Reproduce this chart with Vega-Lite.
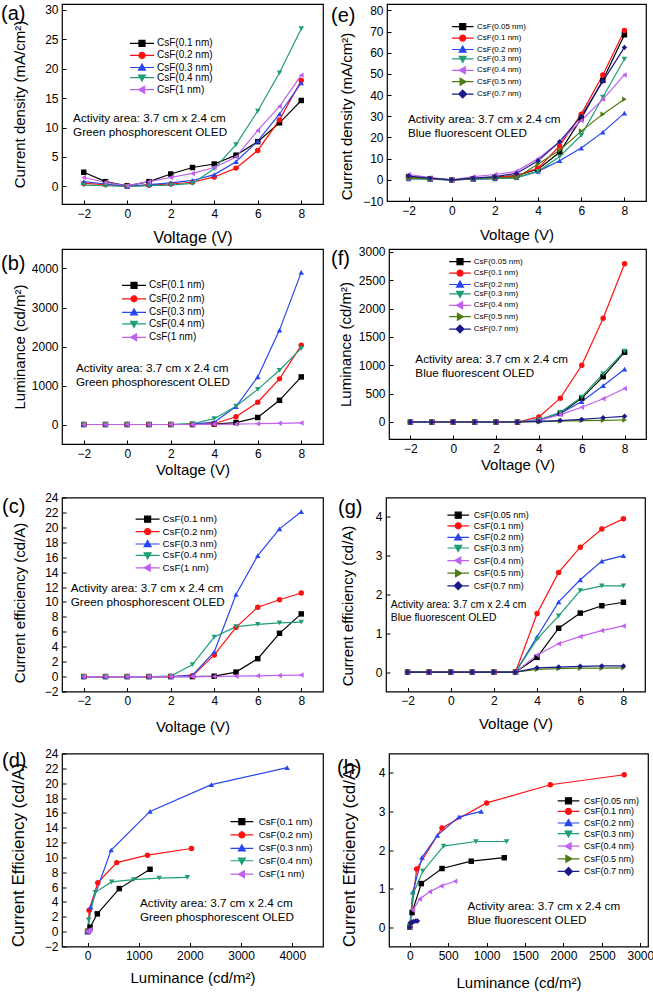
{
"$schema": "https://vega.github.io/schema/vega-lite/v6.json",
"padding": {"left": 0, "top": 3, "right": 0, "bottom": 0},
"background": "white",
"config": {
  "font": "Liberation Sans",
  "view": {"stroke": "black", "strokeWidth": 1.2},
  "axis": {"domain": false, "grid": false, "ticks": true, "tickSize": -4, "tickColor": "black", "tickWidth": 1, "labelPadding": 8, "labelFontSize": 12, "labelColor": "black", "labelFont": "Liberation Sans", "labelOverlap": false, "labelFlush": false, "titleColor": "black", "titleFont": "Liberation Sans", "titleFontWeight": "normal", "titleFontSize": 15},
  "legend": {"labelFont": "Liberation Sans", "labelColor": "black"},
  "line": {"strokeWidth": 1.2},
  "point": {"filled": true, "size": 30, "opacity": 1}
},
"resolve": {"scale": {"color": "independent", "shape": "independent"}, "legend": {"color": "independent", "shape": "independent"}},
"datasets": {
"a": [
{"series":"CsF(0.1 nm)","x":-2,"y":2.4},{"series":"CsF(0.1 nm)","x":-1,"y":0.8},{"series":"CsF(0.1 nm)","x":0,"y":0.1},{"series":"CsF(0.1 nm)","x":1,"y":0.8},{"series":"CsF(0.1 nm)","x":2,"y":2.1},{"series":"CsF(0.1 nm)","x":3,"y":3.2},{"series":"CsF(0.1 nm)","x":4,"y":3.8},{"series":"CsF(0.1 nm)","x":5,"y":5.3},{"series":"CsF(0.1 nm)","x":6,"y":7.6},{"series":"CsF(0.1 nm)","x":7,"y":10.8},{"series":"CsF(0.1 nm)","x":8,"y":14.6},
{"series":"CsF(0.2 nm)","x":-2,"y":0.5},{"series":"CsF(0.2 nm)","x":-1,"y":0.3},{"series":"CsF(0.2 nm)","x":0,"y":0},{"series":"CsF(0.2 nm)","x":1,"y":0.2},{"series":"CsF(0.2 nm)","x":2,"y":0.4},{"series":"CsF(0.2 nm)","x":3,"y":0.7},{"series":"CsF(0.2 nm)","x":4,"y":1.6},{"series":"CsF(0.2 nm)","x":5,"y":3.1},{"series":"CsF(0.2 nm)","x":6,"y":6.1},{"series":"CsF(0.2 nm)","x":7,"y":11.3},{"series":"CsF(0.2 nm)","x":8,"y":18.0},
{"series":"CsF(0.3 nm)","x":-2,"y":0.8},{"series":"CsF(0.3 nm)","x":-1,"y":0.4},{"series":"CsF(0.3 nm)","x":0,"y":0},{"series":"CsF(0.3 nm)","x":1,"y":0.3},{"series":"CsF(0.3 nm)","x":2,"y":0.6},{"series":"CsF(0.3 nm)","x":3,"y":1.0},{"series":"CsF(0.3 nm)","x":4,"y":2.0},{"series":"CsF(0.3 nm)","x":5,"y":4.2},{"series":"CsF(0.3 nm)","x":6,"y":7.7},{"series":"CsF(0.3 nm)","x":7,"y":12.3},{"series":"CsF(0.3 nm)","x":8,"y":17.6},
{"series":"CsF(0.4 nm)","x":-2,"y":0.2},{"series":"CsF(0.4 nm)","x":-1,"y":0.1},{"series":"CsF(0.4 nm)","x":0,"y":0},{"series":"CsF(0.4 nm)","x":1,"y":0.1},{"series":"CsF(0.4 nm)","x":2,"y":0.2},{"series":"CsF(0.4 nm)","x":3,"y":0.5},{"series":"CsF(0.4 nm)","x":4,"y":3.0},{"series":"CsF(0.4 nm)","x":5,"y":7.1},{"series":"CsF(0.4 nm)","x":6,"y":12.8},{"series":"CsF(0.4 nm)","x":7,"y":19.3},{"series":"CsF(0.4 nm)","x":8,"y":26.8},
{"series":"CsF(1 nm)","x":-2,"y":1.5},{"series":"CsF(1 nm)","x":-1,"y":0.7},{"series":"CsF(1 nm)","x":0,"y":0.1},{"series":"CsF(1 nm)","x":1,"y":0.8},{"series":"CsF(1 nm)","x":2,"y":1.5},{"series":"CsF(1 nm)","x":3,"y":2.2},{"series":"CsF(1 nm)","x":4,"y":3.2},{"series":"CsF(1 nm)","x":5,"y":5.0},{"series":"CsF(1 nm)","x":6,"y":9.5},{"series":"CsF(1 nm)","x":7,"y":13.6},{"series":"CsF(1 nm)","x":8,"y":18.9}
],
"e": [
{"series":"CsF(0.05 nm)","x":-2,"y":1.5},{"series":"CsF(0.05 nm)","x":-1,"y":0.5},{"series":"CsF(0.05 nm)","x":0,"y":0},{"series":"CsF(0.05 nm)","x":1,"y":0.5},{"series":"CsF(0.05 nm)","x":2,"y":1.2},{"series":"CsF(0.05 nm)","x":3,"y":2.0},{"series":"CsF(0.05 nm)","x":4,"y":5.0},{"series":"CsF(0.05 nm)","x":5,"y":13.0},{"series":"CsF(0.05 nm)","x":6,"y":29.0},{"series":"CsF(0.05 nm)","x":7,"y":47.0},{"series":"CsF(0.05 nm)","x":8,"y":68.5},
{"series":"CsF(0.1 nm)","x":-2,"y":1.0},{"series":"CsF(0.1 nm)","x":-1,"y":0.5},{"series":"CsF(0.1 nm)","x":0,"y":0},{"series":"CsF(0.1 nm)","x":1,"y":0.5},{"series":"CsF(0.1 nm)","x":2,"y":1.0},{"series":"CsF(0.1 nm)","x":3,"y":2.0},{"series":"CsF(0.1 nm)","x":4,"y":5.5},{"series":"CsF(0.1 nm)","x":5,"y":16.0},{"series":"CsF(0.1 nm)","x":6,"y":31.0},{"series":"CsF(0.1 nm)","x":7,"y":49.5},{"series":"CsF(0.1 nm)","x":8,"y":70.5},
{"series":"CsF(0.2 nm)","x":-2,"y":0.5},{"series":"CsF(0.2 nm)","x":-1,"y":0.3},{"series":"CsF(0.2 nm)","x":0,"y":0},{"series":"CsF(0.2 nm)","x":1,"y":0.3},{"series":"CsF(0.2 nm)","x":2,"y":0.5},{"series":"CsF(0.2 nm)","x":3,"y":1.0},{"series":"CsF(0.2 nm)","x":4,"y":4.0},{"series":"CsF(0.2 nm)","x":5,"y":9.0},{"series":"CsF(0.2 nm)","x":6,"y":15.0},{"series":"CsF(0.2 nm)","x":7,"y":22.5},{"series":"CsF(0.2 nm)","x":8,"y":31.5},
{"series":"CsF(0.3 nm)","x":-2,"y":0.5},{"series":"CsF(0.3 nm)","x":-1,"y":0.3},{"series":"CsF(0.3 nm)","x":0,"y":0},{"series":"CsF(0.3 nm)","x":1,"y":0.3},{"series":"CsF(0.3 nm)","x":2,"y":0.5},{"series":"CsF(0.3 nm)","x":3,"y":1.0},{"series":"CsF(0.3 nm)","x":4,"y":4.0},{"series":"CsF(0.3 nm)","x":5,"y":11.0},{"series":"CsF(0.3 nm)","x":6,"y":21.0},{"series":"CsF(0.3 nm)","x":7,"y":39.0},{"series":"CsF(0.3 nm)","x":8,"y":57.0},
{"series":"CsF(0.4 nm)","x":-2,"y":2.5},{"series":"CsF(0.4 nm)","x":-1,"y":1.0},{"series":"CsF(0.4 nm)","x":0,"y":0},{"series":"CsF(0.4 nm)","x":1,"y":1.5},{"series":"CsF(0.4 nm)","x":2,"y":2.5},{"series":"CsF(0.4 nm)","x":3,"y":4.0},{"series":"CsF(0.4 nm)","x":4,"y":10.0},{"series":"CsF(0.4 nm)","x":5,"y":18.0},{"series":"CsF(0.4 nm)","x":6,"y":28.0},{"series":"CsF(0.4 nm)","x":7,"y":38.0},{"series":"CsF(0.4 nm)","x":8,"y":49.5},
{"series":"CsF(0.5 nm)","x":-2,"y":1.0},{"series":"CsF(0.5 nm)","x":-1,"y":0.5},{"series":"CsF(0.5 nm)","x":0,"y":0},{"series":"CsF(0.5 nm)","x":1,"y":0.5},{"series":"CsF(0.5 nm)","x":2,"y":1.0},{"series":"CsF(0.5 nm)","x":3,"y":1.0},{"series":"CsF(0.5 nm)","x":4,"y":7.5},{"series":"CsF(0.5 nm)","x":5,"y":14.0},{"series":"CsF(0.5 nm)","x":6,"y":23.0},{"series":"CsF(0.5 nm)","x":7,"y":31.0},{"series":"CsF(0.5 nm)","x":8,"y":38.0},
{"series":"CsF(0.7 nm)","x":-2,"y":1.8},{"series":"CsF(0.7 nm)","x":-1,"y":0.8},{"series":"CsF(0.7 nm)","x":0,"y":0},{"series":"CsF(0.7 nm)","x":1,"y":0.8},{"series":"CsF(0.7 nm)","x":2,"y":1.5},{"series":"CsF(0.7 nm)","x":3,"y":3.0},{"series":"CsF(0.7 nm)","x":4,"y":9.0},{"series":"CsF(0.7 nm)","x":5,"y":18.0},{"series":"CsF(0.7 nm)","x":6,"y":30.0},{"series":"CsF(0.7 nm)","x":7,"y":46.5},{"series":"CsF(0.7 nm)","x":8,"y":62.5}
],
"b": [
{"series":"CsF(0.1 nm)","x":-2,"y":0},{"series":"CsF(0.1 nm)","x":-1,"y":0},{"series":"CsF(0.1 nm)","x":0,"y":0},{"series":"CsF(0.1 nm)","x":1,"y":0},{"series":"CsF(0.1 nm)","x":2,"y":0},{"series":"CsF(0.1 nm)","x":3,"y":0},{"series":"CsF(0.1 nm)","x":4,"y":10},{"series":"CsF(0.1 nm)","x":5,"y":50},{"series":"CsF(0.1 nm)","x":6,"y":180},{"series":"CsF(0.1 nm)","x":7,"y":620},{"series":"CsF(0.1 nm)","x":8,"y":1220},
{"series":"CsF(0.2 nm)","x":-2,"y":0},{"series":"CsF(0.2 nm)","x":-1,"y":0},{"series":"CsF(0.2 nm)","x":0,"y":0},{"series":"CsF(0.2 nm)","x":1,"y":0},{"series":"CsF(0.2 nm)","x":2,"y":0},{"series":"CsF(0.2 nm)","x":3,"y":0},{"series":"CsF(0.2 nm)","x":4,"y":20},{"series":"CsF(0.2 nm)","x":5,"y":200},{"series":"CsF(0.2 nm)","x":6,"y":570},{"series":"CsF(0.2 nm)","x":7,"y":1170},{"series":"CsF(0.2 nm)","x":8,"y":2030},
{"series":"CsF(0.3 nm)","x":-2,"y":0},{"series":"CsF(0.3 nm)","x":-1,"y":0},{"series":"CsF(0.3 nm)","x":0,"y":0},{"series":"CsF(0.3 nm)","x":1,"y":0},{"series":"CsF(0.3 nm)","x":2,"y":0},{"series":"CsF(0.3 nm)","x":3,"y":10},{"series":"CsF(0.3 nm)","x":4,"y":60},{"series":"CsF(0.3 nm)","x":5,"y":460},{"series":"CsF(0.3 nm)","x":6,"y":1220},{"series":"CsF(0.3 nm)","x":7,"y":2420},{"series":"CsF(0.3 nm)","x":8,"y":3900},
{"series":"CsF(0.4 nm)","x":-2,"y":0},{"series":"CsF(0.4 nm)","x":-1,"y":0},{"series":"CsF(0.4 nm)","x":0,"y":0},{"series":"CsF(0.4 nm)","x":1,"y":0},{"series":"CsF(0.4 nm)","x":2,"y":0},{"series":"CsF(0.4 nm)","x":3,"y":20},{"series":"CsF(0.4 nm)","x":4,"y":150},{"series":"CsF(0.4 nm)","x":5,"y":470},{"series":"CsF(0.4 nm)","x":6,"y":900},{"series":"CsF(0.4 nm)","x":7,"y":1390},{"series":"CsF(0.4 nm)","x":8,"y":1950},
{"series":"CsF(1 nm)","x":-2,"y":0},{"series":"CsF(1 nm)","x":-1,"y":0},{"series":"CsF(1 nm)","x":0,"y":0},{"series":"CsF(1 nm)","x":1,"y":0},{"series":"CsF(1 nm)","x":2,"y":0},{"series":"CsF(1 nm)","x":3,"y":0},{"series":"CsF(1 nm)","x":4,"y":5},{"series":"CsF(1 nm)","x":5,"y":10},{"series":"CsF(1 nm)","x":6,"y":20},{"series":"CsF(1 nm)","x":7,"y":30},{"series":"CsF(1 nm)","x":8,"y":40}
],
"f": [
{"series":"CsF(0.05 nm)","x":-2,"y":0},{"series":"CsF(0.05 nm)","x":-1,"y":0},{"series":"CsF(0.05 nm)","x":0,"y":0},{"series":"CsF(0.05 nm)","x":1,"y":0},{"series":"CsF(0.05 nm)","x":2,"y":0},{"series":"CsF(0.05 nm)","x":3,"y":0},{"series":"CsF(0.05 nm)","x":4,"y":30},{"series":"CsF(0.05 nm)","x":5,"y":150},{"series":"CsF(0.05 nm)","x":6,"y":420},{"series":"CsF(0.05 nm)","x":7,"y":800},{"series":"CsF(0.05 nm)","x":8,"y":1230},
{"series":"CsF(0.1 nm)","x":-2,"y":0},{"series":"CsF(0.1 nm)","x":-1,"y":0},{"series":"CsF(0.1 nm)","x":0,"y":0},{"series":"CsF(0.1 nm)","x":1,"y":0},{"series":"CsF(0.1 nm)","x":2,"y":0},{"series":"CsF(0.1 nm)","x":3,"y":0},{"series":"CsF(0.1 nm)","x":4,"y":90},{"series":"CsF(0.1 nm)","x":5,"y":420},{"series":"CsF(0.1 nm)","x":6,"y":1000},{"series":"CsF(0.1 nm)","x":7,"y":1830},{"series":"CsF(0.1 nm)","x":8,"y":2790},
{"series":"CsF(0.2 nm)","x":-2,"y":0},{"series":"CsF(0.2 nm)","x":-1,"y":0},{"series":"CsF(0.2 nm)","x":0,"y":0},{"series":"CsF(0.2 nm)","x":1,"y":0},{"series":"CsF(0.2 nm)","x":2,"y":0},{"series":"CsF(0.2 nm)","x":3,"y":0},{"series":"CsF(0.2 nm)","x":4,"y":40},{"series":"CsF(0.2 nm)","x":5,"y":150},{"series":"CsF(0.2 nm)","x":6,"y":360},{"series":"CsF(0.2 nm)","x":7,"y":640},{"series":"CsF(0.2 nm)","x":8,"y":930},
{"series":"CsF(0.3 nm)","x":-2,"y":0},{"series":"CsF(0.3 nm)","x":-1,"y":0},{"series":"CsF(0.3 nm)","x":0,"y":0},{"series":"CsF(0.3 nm)","x":1,"y":0},{"series":"CsF(0.3 nm)","x":2,"y":0},{"series":"CsF(0.3 nm)","x":3,"y":0},{"series":"CsF(0.3 nm)","x":4,"y":40},{"series":"CsF(0.3 nm)","x":5,"y":170},{"series":"CsF(0.3 nm)","x":6,"y":440},{"series":"CsF(0.3 nm)","x":7,"y":850},{"series":"CsF(0.3 nm)","x":8,"y":1250},
{"series":"CsF(0.4 nm)","x":-2,"y":0},{"series":"CsF(0.4 nm)","x":-1,"y":0},{"series":"CsF(0.4 nm)","x":0,"y":0},{"series":"CsF(0.4 nm)","x":1,"y":0},{"series":"CsF(0.4 nm)","x":2,"y":0},{"series":"CsF(0.4 nm)","x":3,"y":0},{"series":"CsF(0.4 nm)","x":4,"y":30},{"series":"CsF(0.4 nm)","x":5,"y":130},{"series":"CsF(0.4 nm)","x":6,"y":260},{"series":"CsF(0.4 nm)","x":7,"y":410},{"series":"CsF(0.4 nm)","x":8,"y":590},
{"series":"CsF(0.5 nm)","x":-2,"y":0},{"series":"CsF(0.5 nm)","x":-1,"y":0},{"series":"CsF(0.5 nm)","x":0,"y":0},{"series":"CsF(0.5 nm)","x":1,"y":0},{"series":"CsF(0.5 nm)","x":2,"y":0},{"series":"CsF(0.5 nm)","x":3,"y":0},{"series":"CsF(0.5 nm)","x":4,"y":5},{"series":"CsF(0.5 nm)","x":5,"y":15},{"series":"CsF(0.5 nm)","x":6,"y":25},{"series":"CsF(0.5 nm)","x":7,"y":30},{"series":"CsF(0.5 nm)","x":8,"y":35},
{"series":"CsF(0.7 nm)","x":-2,"y":0},{"series":"CsF(0.7 nm)","x":-1,"y":0},{"series":"CsF(0.7 nm)","x":0,"y":0},{"series":"CsF(0.7 nm)","x":1,"y":0},{"series":"CsF(0.7 nm)","x":2,"y":0},{"series":"CsF(0.7 nm)","x":3,"y":0},{"series":"CsF(0.7 nm)","x":4,"y":10},{"series":"CsF(0.7 nm)","x":5,"y":25},{"series":"CsF(0.7 nm)","x":6,"y":45},{"series":"CsF(0.7 nm)","x":7,"y":75},{"series":"CsF(0.7 nm)","x":8,"y":100}
],
"c": [
{"series":"CsF(0.1 nm)","x":-2,"y":0},{"series":"CsF(0.1 nm)","x":-1,"y":0},{"series":"CsF(0.1 nm)","x":0,"y":0},{"series":"CsF(0.1 nm)","x":1,"y":0},{"series":"CsF(0.1 nm)","x":2,"y":0},{"series":"CsF(0.1 nm)","x":3,"y":0},{"series":"CsF(0.1 nm)","x":4,"y":0.05},{"series":"CsF(0.1 nm)","x":5,"y":0.6},{"series":"CsF(0.1 nm)","x":6,"y":2.4},{"series":"CsF(0.1 nm)","x":7,"y":5.8},{"series":"CsF(0.1 nm)","x":8,"y":8.4},
{"series":"CsF(0.2 nm)","x":-2,"y":0},{"series":"CsF(0.2 nm)","x":-1,"y":0},{"series":"CsF(0.2 nm)","x":0,"y":0},{"series":"CsF(0.2 nm)","x":1,"y":0},{"series":"CsF(0.2 nm)","x":2,"y":0},{"series":"CsF(0.2 nm)","x":3,"y":0.1},{"series":"CsF(0.2 nm)","x":4,"y":2.9},{"series":"CsF(0.2 nm)","x":5,"y":6.6},{"series":"CsF(0.2 nm)","x":6,"y":9.3},{"series":"CsF(0.2 nm)","x":7,"y":10.3},{"series":"CsF(0.2 nm)","x":8,"y":11.2},
{"series":"CsF(0.3 nm)","x":-2,"y":0},{"series":"CsF(0.3 nm)","x":-1,"y":0},{"series":"CsF(0.3 nm)","x":0,"y":0},{"series":"CsF(0.3 nm)","x":1,"y":0},{"series":"CsF(0.3 nm)","x":2,"y":0},{"series":"CsF(0.3 nm)","x":3,"y":0.2},{"series":"CsF(0.3 nm)","x":4,"y":3.3},{"series":"CsF(0.3 nm)","x":5,"y":11.0},{"series":"CsF(0.3 nm)","x":6,"y":16.2},{"series":"CsF(0.3 nm)","x":7,"y":19.8},{"series":"CsF(0.3 nm)","x":8,"y":22.1},
{"series":"CsF(0.4 nm)","x":-2,"y":0},{"series":"CsF(0.4 nm)","x":-1,"y":0},{"series":"CsF(0.4 nm)","x":0,"y":0},{"series":"CsF(0.4 nm)","x":1,"y":0},{"series":"CsF(0.4 nm)","x":2,"y":0.05},{"series":"CsF(0.4 nm)","x":3,"y":1.6},{"series":"CsF(0.4 nm)","x":4,"y":5.3},{"series":"CsF(0.4 nm)","x":5,"y":6.7},{"series":"CsF(0.4 nm)","x":6,"y":7.0},{"series":"CsF(0.4 nm)","x":7,"y":7.2},{"series":"CsF(0.4 nm)","x":8,"y":7.3},
{"series":"CsF(1 nm)","x":-2,"y":0},{"series":"CsF(1 nm)","x":-1,"y":0},{"series":"CsF(1 nm)","x":0,"y":0},{"series":"CsF(1 nm)","x":1,"y":0},{"series":"CsF(1 nm)","x":2,"y":0},{"series":"CsF(1 nm)","x":3,"y":0},{"series":"CsF(1 nm)","x":4,"y":0},{"series":"CsF(1 nm)","x":5,"y":0.05},{"series":"CsF(1 nm)","x":6,"y":0.1},{"series":"CsF(1 nm)","x":7,"y":0.15},{"series":"CsF(1 nm)","x":8,"y":0.2}
],
"g": [
{"series":"CsF(0.05 nm)","x":-2,"y":0},{"series":"CsF(0.05 nm)","x":-1,"y":0},{"series":"CsF(0.05 nm)","x":0,"y":0},{"series":"CsF(0.05 nm)","x":1,"y":0},{"series":"CsF(0.05 nm)","x":2,"y":0},{"series":"CsF(0.05 nm)","x":3,"y":0},{"series":"CsF(0.05 nm)","x":4,"y":0.38},{"series":"CsF(0.05 nm)","x":5,"y":1.13},{"series":"CsF(0.05 nm)","x":6,"y":1.52},{"series":"CsF(0.05 nm)","x":7,"y":1.71},{"series":"CsF(0.05 nm)","x":8,"y":1.8},
{"series":"CsF(0.1 nm)","x":-2,"y":0},{"series":"CsF(0.1 nm)","x":-1,"y":0},{"series":"CsF(0.1 nm)","x":0,"y":0},{"series":"CsF(0.1 nm)","x":1,"y":0},{"series":"CsF(0.1 nm)","x":2,"y":0},{"series":"CsF(0.1 nm)","x":3,"y":0},{"series":"CsF(0.1 nm)","x":4,"y":1.51},{"series":"CsF(0.1 nm)","x":5,"y":2.57},{"series":"CsF(0.1 nm)","x":6,"y":3.22},{"series":"CsF(0.1 nm)","x":7,"y":3.69},{"series":"CsF(0.1 nm)","x":8,"y":3.95},
{"series":"CsF(0.2 nm)","x":-2,"y":0},{"series":"CsF(0.2 nm)","x":-1,"y":0},{"series":"CsF(0.2 nm)","x":0,"y":0},{"series":"CsF(0.2 nm)","x":1,"y":0},{"series":"CsF(0.2 nm)","x":2,"y":0},{"series":"CsF(0.2 nm)","x":3,"y":0},{"series":"CsF(0.2 nm)","x":4,"y":0.91},{"series":"CsF(0.2 nm)","x":5,"y":1.81},{"series":"CsF(0.2 nm)","x":6,"y":2.38},{"series":"CsF(0.2 nm)","x":7,"y":2.86},{"series":"CsF(0.2 nm)","x":8,"y":3.0},
{"series":"CsF(0.3 nm)","x":-2,"y":0},{"series":"CsF(0.3 nm)","x":-1,"y":0},{"series":"CsF(0.3 nm)","x":0,"y":0},{"series":"CsF(0.3 nm)","x":1,"y":0},{"series":"CsF(0.3 nm)","x":2,"y":0},{"series":"CsF(0.3 nm)","x":3,"y":0},{"series":"CsF(0.3 nm)","x":4,"y":0.85},{"series":"CsF(0.3 nm)","x":5,"y":1.45},{"series":"CsF(0.3 nm)","x":6,"y":2.1},{"series":"CsF(0.3 nm)","x":7,"y":2.22},{"series":"CsF(0.3 nm)","x":8,"y":2.22},
{"series":"CsF(0.4 nm)","x":-2,"y":0},{"series":"CsF(0.4 nm)","x":-1,"y":0},{"series":"CsF(0.4 nm)","x":0,"y":0},{"series":"CsF(0.4 nm)","x":1,"y":0},{"series":"CsF(0.4 nm)","x":2,"y":0},{"series":"CsF(0.4 nm)","x":3,"y":0},{"series":"CsF(0.4 nm)","x":4,"y":0.44},{"series":"CsF(0.4 nm)","x":5,"y":0.73},{"series":"CsF(0.4 nm)","x":6,"y":0.92},{"series":"CsF(0.4 nm)","x":7,"y":1.07},{"series":"CsF(0.4 nm)","x":8,"y":1.19},
{"series":"CsF(0.5 nm)","x":-2,"y":0},{"series":"CsF(0.5 nm)","x":-1,"y":0},{"series":"CsF(0.5 nm)","x":0,"y":0},{"series":"CsF(0.5 nm)","x":1,"y":0},{"series":"CsF(0.5 nm)","x":2,"y":0},{"series":"CsF(0.5 nm)","x":3,"y":0},{"series":"CsF(0.5 nm)","x":4,"y":0.07},{"series":"CsF(0.5 nm)","x":5,"y":0.09},{"series":"CsF(0.5 nm)","x":6,"y":0.1},{"series":"CsF(0.5 nm)","x":7,"y":0.1},{"series":"CsF(0.5 nm)","x":8,"y":0.11},
{"series":"CsF(0.7 nm)","x":-2,"y":0},{"series":"CsF(0.7 nm)","x":-1,"y":0},{"series":"CsF(0.7 nm)","x":0,"y":0},{"series":"CsF(0.7 nm)","x":1,"y":0},{"series":"CsF(0.7 nm)","x":2,"y":0},{"series":"CsF(0.7 nm)","x":3,"y":0},{"series":"CsF(0.7 nm)","x":4,"y":0.11},{"series":"CsF(0.7 nm)","x":5,"y":0.13},{"series":"CsF(0.7 nm)","x":6,"y":0.15},{"series":"CsF(0.7 nm)","x":7,"y":0.16},{"series":"CsF(0.7 nm)","x":8,"y":0.16}
],
"d": [
{"series":"CsF(0.1 nm)","x":0,"y":0},{"series":"CsF(0.1 nm)","x":10,"y":0.05},{"series":"CsF(0.1 nm)","x":50,"y":0.6},{"series":"CsF(0.1 nm)","x":190,"y":2.4},{"series":"CsF(0.1 nm)","x":620,"y":5.8},{"series":"CsF(0.1 nm)","x":1220,"y":8.4},
{"series":"CsF(0.2 nm)","x":0,"y":0},{"series":"CsF(0.2 nm)","x":10,"y":0.1},{"series":"CsF(0.2 nm)","x":30,"y":2.9},{"series":"CsF(0.2 nm)","x":200,"y":6.6},{"series":"CsF(0.2 nm)","x":570,"y":9.3},{"series":"CsF(0.2 nm)","x":1170,"y":10.3},{"series":"CsF(0.2 nm)","x":2030,"y":11.2},
{"series":"CsF(0.3 nm)","x":0,"y":0},{"series":"CsF(0.3 nm)","x":10,"y":0.2},{"series":"CsF(0.3 nm)","x":60,"y":3.3},{"series":"CsF(0.3 nm)","x":460,"y":11.0},{"series":"CsF(0.3 nm)","x":1220,"y":16.2},{"series":"CsF(0.3 nm)","x":2420,"y":19.8},{"series":"CsF(0.3 nm)","x":3900,"y":22.1},
{"series":"CsF(0.4 nm)","x":0,"y":0},{"series":"CsF(0.4 nm)","x":20,"y":1.6},{"series":"CsF(0.4 nm)","x":150,"y":5.3},{"series":"CsF(0.4 nm)","x":470,"y":6.7},{"series":"CsF(0.4 nm)","x":900,"y":7.0},{"series":"CsF(0.4 nm)","x":1400,"y":7.2},{"series":"CsF(0.4 nm)","x":1950,"y":7.3},
{"series":"CsF(1 nm)","x":0,"y":0},{"series":"CsF(1 nm)","x":10,"y":0.05},{"series":"CsF(1 nm)","x":25,"y":0.1},{"series":"CsF(1 nm)","x":40,"y":0.2},{"series":"CsF(1 nm)","x":55,"y":0.3}
],
"h": [
{"series":"CsF(0.05 nm)","x":0,"y":0},{"series":"CsF(0.05 nm)","x":30,"y":0.38},{"series":"CsF(0.05 nm)","x":150,"y":1.13},{"series":"CsF(0.05 nm)","x":420,"y":1.52},{"series":"CsF(0.05 nm)","x":800,"y":1.71},{"series":"CsF(0.05 nm)","x":1230,"y":1.8},
{"series":"CsF(0.1 nm)","x":0,"y":0},{"series":"CsF(0.1 nm)","x":90,"y":1.51},{"series":"CsF(0.1 nm)","x":420,"y":2.57},{"series":"CsF(0.1 nm)","x":1000,"y":3.22},{"series":"CsF(0.1 nm)","x":1830,"y":3.69},{"series":"CsF(0.1 nm)","x":2790,"y":3.95},
{"series":"CsF(0.2 nm)","x":0,"y":0},{"series":"CsF(0.2 nm)","x":40,"y":0.91},{"series":"CsF(0.2 nm)","x":160,"y":1.81},{"series":"CsF(0.2 nm)","x":360,"y":2.38},{"series":"CsF(0.2 nm)","x":640,"y":2.86},{"series":"CsF(0.2 nm)","x":930,"y":3.0},
{"series":"CsF(0.3 nm)","x":0,"y":0},{"series":"CsF(0.3 nm)","x":40,"y":0.85},{"series":"CsF(0.3 nm)","x":170,"y":1.45},{"series":"CsF(0.3 nm)","x":440,"y":2.1},{"series":"CsF(0.3 nm)","x":860,"y":2.22},{"series":"CsF(0.3 nm)","x":1260,"y":2.22},
{"series":"CsF(0.4 nm)","x":0,"y":0},{"series":"CsF(0.4 nm)","x":40,"y":0.44},{"series":"CsF(0.4 nm)","x":130,"y":0.73},{"series":"CsF(0.4 nm)","x":260,"y":0.92},{"series":"CsF(0.4 nm)","x":410,"y":1.07},{"series":"CsF(0.4 nm)","x":590,"y":1.19},
{"series":"CsF(0.5 nm)","x":0,"y":0},{"series":"CsF(0.5 nm)","x":5,"y":0.07},{"series":"CsF(0.5 nm)","x":15,"y":0.09},{"series":"CsF(0.5 nm)","x":25,"y":0.1},{"series":"CsF(0.5 nm)","x":30,"y":0.1},{"series":"CsF(0.5 nm)","x":35,"y":0.11},
{"series":"CsF(0.7 nm)","x":0,"y":0},{"series":"CsF(0.7 nm)","x":10,"y":0.11},{"series":"CsF(0.7 nm)","x":30,"y":0.13},{"series":"CsF(0.7 nm)","x":50,"y":0.15},{"series":"CsF(0.7 nm)","x":80,"y":0.16},{"series":"CsF(0.7 nm)","x":100,"y":0.16}
]
},
"vconcat": [
{"resolve": {"scale": {"color": "independent", "shape": "independent"}, "legend": {"color": "independent", "shape": "independent"}}, "spacing": -1, "vconcat": [
{"resolve": {"scale": {"color": "independent", "shape": "independent"}, "legend": {"color": "independent", "shape": "independent"}}, "spacing": 6, "hconcat": [
{
 "width": 261, "height": 200,
 "title": {"text": "(a)", "anchor": "start", "frame": "bounds", "orient": "top", "offset": -20, "baseline": "top", "dx": -11, "dy": 0, "fontSize": 20, "fontWeight": "normal", "font": "Liberation Sans", "color": "black"},
 "data": {"name": "a"},
 "layer": [
  {"mark": {"type": "line"},
   "encoding": {
    "x": {"field": "x", "type": "quantitative", "scale": {"domain": [-3, 9], "nice": false, "zero": false}, "axis": {"values": [-2, 0, 2, 4, 6, 8], "tickCount": 30, "format": "d", "labelOverlap": false, "title": "Voltage (V)", "titleFontSize": 16, "titlePadding": 10}},
    "y": {"field": "y", "type": "quantitative", "scale": {"domain": [-3, 31], "nice": false, "zero": false}, "axis": {"values": [0, 5, 10, 15, 20, 25, 30], "tickCount": 30, "format": "d", "labelOverlap": false, "title": "Current density (mA/cm²)", "titlePadding": 5, "minExtent": 30, "maxExtent": 30}},
    "color": {"field": "series", "type": "nominal", "scale": {"domain": ["CsF(0.1 nm)", "CsF(0.2 nm)", "CsF(0.3 nm)", "CsF(0.4 nm)", "CsF(1 nm)"], "range": ["#000000", "#ff1010", "#2846f0", "#1f9e74", "#c060f0"]}}
   }},
  {"mark": {"type": "point"},
   "encoding": {
    "x": {"field": "x", "type": "quantitative"},
    "y": {"field": "y", "type": "quantitative"},
    "color": {"field": "series", "type": "nominal", "legend": {"title": null, "orient": "none", "legendX": 75, "legendY": 34.3, "padding": 0, "labelFontSize": 10, "labelOffset": 10, "rowPadding": 0.1, "symbolSize": 36, "symbolOpacity": 1, "symbolStrokeWidth": 1.2,
      "encode": {"symbols": {"update": {
       "shape": {"signal": "['M-4,0H4M-1,-1H1V1H-1Z','M-4,0H4M-1,0A1,1,0,1,1,1,0A1,1,0,1,1,-1,0Z','M-4,0H4M0,-1.15L1.15,0.85H-1.15Z','M-4,0H4M0,1.15L1.15,-0.85H-1.15Z','M-4,0H4M-1.15,0L0.85,-1.15V1.15Z'][indexof(['CsF(0.1 nm)','CsF(0.2 nm)','CsF(0.3 nm)','CsF(0.4 nm)','CsF(1 nm)'], datum.value)]"},
       "fill": {"signal": "['#000000','#ff1010','#2846f0','#1f9e74','#c060f0'][indexof(['CsF(0.1 nm)','CsF(0.2 nm)','CsF(0.3 nm)','CsF(0.4 nm)','CsF(1 nm)'], datum.value)]"},
       "stroke": {"signal": "['#000000','#ff1010','#2846f0','#1f9e74','#c060f0'][indexof(['CsF(0.1 nm)','CsF(0.2 nm)','CsF(0.3 nm)','CsF(0.4 nm)','CsF(1 nm)'], datum.value)]"},
       "strokeWidth": {"value": 1.2}}}}}},
    "shape": {"field": "series", "type": "nominal", "legend": null, "scale": {"domain": ["CsF(1 nm)", "CsF(0.4 nm)", "CsF(0.3 nm)", "CsF(0.2 nm)", "CsF(0.1 nm)"], "range": ["triangle-left", "triangle-down", "triangle-up", "circle", "square"]}}
   }},
  {"data": {"values": [{}]},
   "mark": {"type": "text", "align": "left", "baseline": "top", "fontSize": 11.7, "lineHeight": 14, "color": "black", "text": ["Activity area: 3.7 cm x 2.4 cm", "Green phosphorescent OLED"]},
   "encoding": {
    "x": {"datum": -2.49, "type": "quantitative"},
    "y": {"datum": 12.5, "type": "quantitative"}
   }}
 ]
},
{
 "width": 259, "height": 197,
 "title": {"text": "(e)", "anchor": "start", "frame": "bounds", "orient": "top", "offset": -22, "baseline": "top", "dx": -8, "dy": 0, "fontSize": 20, "fontWeight": "normal", "font": "Liberation Sans", "color": "black"},
 "data": {"name": "e"},
 "layer": [
  {"mark": {"type": "line"},
   "encoding": {
    "x": {"field": "x", "type": "quantitative", "scale": {"domain": [-3, 9], "nice": false, "zero": false}, "axis": {"values": [-2, 0, 2, 4, 6, 8], "tickCount": 30, "format": "d", "labelOverlap": false, "title": "Voltage (V)", "titlePadding": 11}},
    "y": {"field": "y", "type": "quantitative", "scale": {"domain": [-10, 83], "nice": false, "zero": false}, "axis": {"values": [-10, 0, 10, 20, 30, 40, 50, 60, 70, 80], "tickCount": 30, "format": "d", "labelOverlap": false, "title": "Current density (mA/cm²)", "titlePadding": 3, "titleY": 112, "minExtent": 30, "maxExtent": 30}},
    "color": {"field": "series", "type": "nominal", "scale": {"domain": ["CsF(0.05 nm)", "CsF(0.1 nm)", "CsF(0.2 nm)", "CsF(0.3 nm)", "CsF(0.4 nm)", "CsF(0.5 nm)", "CsF(0.7 nm)"], "range": ["#000000", "#ff1010", "#2846f0", "#1f9e74", "#c060f0", "#4e7a12", "#1a1a8c"]}}
   }},
  {"mark": {"type": "point"},
   "encoding": {
    "x": {"field": "x", "type": "quantitative"},
    "y": {"field": "y", "type": "quantitative"},
    "color": {"field": "series", "type": "nominal", "legend": {"title": null, "orient": "none", "legendX": 71.7, "legendY": 18.7, "padding": 0, "labelFontSize": 8, "labelOffset": 10.3, "rowPadding": -0.6, "symbolSize": 36, "symbolOpacity": 1, "symbolStrokeWidth": 1.2,
      "encode": {"symbols": {"update": {
       "shape": {"signal": "['M-3.6,0H3.6M-1,-1H1V1H-1Z','M-3.6,0H3.6M-1,0A1,1,0,1,1,1,0A1,1,0,1,1,-1,0Z','M-3.6,0H3.6M0,-1.15L1.15,0.85H-1.15Z','M-3.6,0H3.6M0,1.15L1.15,-0.85H-1.15Z','M-3.6,0H3.6M-1.15,0L0.85,-1.15V1.15Z','M-3.6,0H3.6M1.15,0L-0.85,-1.15V1.15Z','M-3.6,0H3.6M0,-1.3L1.3,0L0,1.3L-1.3,0Z'][indexof(['CsF(0.05 nm)','CsF(0.1 nm)','CsF(0.2 nm)','CsF(0.3 nm)','CsF(0.4 nm)','CsF(0.5 nm)','CsF(0.7 nm)'], datum.value)]"},
       "fill": {"signal": "['#000000','#ff1010','#2846f0','#1f9e74','#c060f0','#4e7a12','#1a1a8c'][indexof(['CsF(0.05 nm)','CsF(0.1 nm)','CsF(0.2 nm)','CsF(0.3 nm)','CsF(0.4 nm)','CsF(0.5 nm)','CsF(0.7 nm)'], datum.value)]"},
       "stroke": {"signal": "['#000000','#ff1010','#2846f0','#1f9e74','#c060f0','#4e7a12','#1a1a8c'][indexof(['CsF(0.05 nm)','CsF(0.1 nm)','CsF(0.2 nm)','CsF(0.3 nm)','CsF(0.4 nm)','CsF(0.5 nm)','CsF(0.7 nm)'], datum.value)]"},
       "strokeWidth": {"value": 1.2}}}}}},
    "shape": {"field": "series", "type": "nominal", "legend": null, "scale": {"domain": ["CsF(0.7 nm)", "CsF(0.5 nm)", "CsF(0.4 nm)", "CsF(0.3 nm)", "CsF(0.2 nm)", "CsF(0.1 nm)", "CsF(0.05 nm)"], "range": ["diamond", "triangle-right", "triangle-left", "triangle-down", "triangle-up", "circle", "square"]}}
   }},
  {"data": {"values": [{}]},
   "mark": {"type": "text", "align": "left", "baseline": "top", "fontSize": 11.7, "lineHeight": 14, "color": "black", "text": ["Activity area: 3.7 cm x 2.4 cm", "Blue fluorescent OLED"]},
   "encoding": {
    "x": {"datum": -2.03, "type": "quantitative"},
    "y": {"datum": 31.2, "type": "quantitative"}
   }}
 ]
}
]},
{"resolve": {"scale": {"color": "independent", "shape": "independent"}, "legend": {"color": "independent", "shape": "independent"}}, "spacing": 6, "hconcat": [
{
 "width": 261, "height": 195,
 "title": {"text": "(b)", "anchor": "start", "frame": "bounds", "orient": "top", "offset": -24.5, "baseline": "top", "dx": -11, "dy": 0, "fontSize": 20, "fontWeight": "normal", "font": "Liberation Sans", "color": "black"},
 "data": {"name": "b"},
 "layer": [
  {"mark": {"type": "line"},
   "encoding": {
    "x": {"field": "x", "type": "quantitative", "scale": {"domain": [-3, 9], "nice": false, "zero": false}, "axis": {"values": [-2, 0, 2, 4, 6, 8], "tickCount": 30, "format": "d", "labelOverlap": false, "title": "Voltage (V)", "titlePadding": 3}},
    "y": {"field": "y", "type": "quantitative", "scale": {"domain": [-500, 4500], "nice": false, "zero": false}, "axis": {"values": [0, 1000, 2000, 3000, 4000], "tickCount": 30, "format": "d", "labelOverlap": false, "title": "Luminance (cd/m²)", "titlePadding": 5, "minExtent": 30, "maxExtent": 30}},
    "color": {"field": "series", "type": "nominal", "scale": {"domain": ["CsF(0.1 nm)", "CsF(0.2 nm)", "CsF(0.3 nm)", "CsF(0.4 nm)", "CsF(1 nm)"], "range": ["#000000", "#ff1010", "#2846f0", "#1f9e74", "#c060f0"]}}
   }},
  {"mark": {"type": "point"},
   "encoding": {
    "x": {"field": "x", "type": "quantitative"},
    "y": {"field": "y", "type": "quantitative"},
    "color": {"field": "series", "type": "nominal", "legend": {"title": null, "orient": "none", "legendX": 67, "legendY": 31.3, "padding": 0, "labelFontSize": 10, "labelOffset": 10, "rowPadding": 1.5, "symbolSize": 36, "symbolOpacity": 1, "symbolStrokeWidth": 1.2,
      "encode": {"symbols": {"update": {
       "shape": {"signal": "['M-4,0H4M-1,-1H1V1H-1Z','M-4,0H4M-1,0A1,1,0,1,1,1,0A1,1,0,1,1,-1,0Z','M-4,0H4M0,-1.15L1.15,0.85H-1.15Z','M-4,0H4M0,1.15L1.15,-0.85H-1.15Z','M-4,0H4M-1.15,0L0.85,-1.15V1.15Z'][indexof(['CsF(0.1 nm)','CsF(0.2 nm)','CsF(0.3 nm)','CsF(0.4 nm)','CsF(1 nm)'], datum.value)]"},
       "fill": {"signal": "['#000000','#ff1010','#2846f0','#1f9e74','#c060f0'][indexof(['CsF(0.1 nm)','CsF(0.2 nm)','CsF(0.3 nm)','CsF(0.4 nm)','CsF(1 nm)'], datum.value)]"},
       "stroke": {"signal": "['#000000','#ff1010','#2846f0','#1f9e74','#c060f0'][indexof(['CsF(0.1 nm)','CsF(0.2 nm)','CsF(0.3 nm)','CsF(0.4 nm)','CsF(1 nm)'], datum.value)]"},
       "strokeWidth": {"value": 1.2}}}}}},
    "shape": {"field": "series", "type": "nominal", "legend": null, "scale": {"domain": ["CsF(1 nm)", "CsF(0.4 nm)", "CsF(0.3 nm)", "CsF(0.2 nm)", "CsF(0.1 nm)"], "range": ["triangle-left", "triangle-down", "triangle-up", "circle", "square"]}}
   }},
  {"data": {"values": [{}]},
   "mark": {"type": "text", "align": "left", "baseline": "top", "fontSize": 11.7, "lineHeight": 14, "color": "black", "text": ["Activity area: 3.7 cm x 2.4 cm", "Green phosphorescent OLED"]},
   "encoding": {
    "x": {"datum": -2.36, "type": "quantitative"},
    "y": {"datum": 1577, "type": "quantitative"}
   }}
 ]
},
{
 "width": 257, "height": 190,
 "title": {"text": "(f)", "anchor": "start", "frame": "bounds", "orient": "top", "offset": -23, "baseline": "top", "dx": -7, "dy": 0, "fontSize": 20, "fontWeight": "normal", "font": "Liberation Sans", "color": "black"},
 "data": {"name": "f"},
 "layer": [
  {"mark": {"type": "line"},
   "encoding": {
    "x": {"field": "x", "type": "quantitative", "scale": {"domain": [-3, 9], "nice": false, "zero": false}, "axis": {"values": [-2, 0, 2, 4, 6, 8], "tickCount": 30, "format": "d", "labelOverlap": false, "title": "Voltage (V)", "titlePadding": 3}},
    "y": {"field": "y", "type": "quantitative", "scale": {"domain": [-300, 3050], "nice": false, "zero": false}, "axis": {"values": [0, 500, 1000, 1500, 2000, 2500, 3000], "tickCount": 30, "format": "d", "labelOverlap": false, "title": "Luminance (cd/m²)", "titlePadding": 6, "minExtent": 30, "maxExtent": 30}},
    "color": {"field": "series", "type": "nominal", "scale": {"domain": ["CsF(0.05 nm)", "CsF(0.1 nm)", "CsF(0.2 nm)", "CsF(0.3 nm)", "CsF(0.4 nm)", "CsF(0.5 nm)", "CsF(0.7 nm)"], "range": ["#000000", "#ff1010", "#2846f0", "#1f9e74", "#c060f0", "#4e7a12", "#1a1a8c"]}}
   }},
  {"mark": {"type": "point"},
   "encoding": {
    "x": {"field": "x", "type": "quantitative"},
    "y": {"field": "y", "type": "quantitative"},
    "color": {"field": "series", "type": "nominal", "legend": {"title": null, "orient": "none", "legendX": 67, "legendY": 8.7, "padding": 0, "labelFontSize": 8, "labelOffset": 9.7, "rowPadding": -0.6, "symbolSize": 36, "symbolOpacity": 1, "symbolStrokeWidth": 1.2,
      "encode": {"symbols": {"update": {
       "shape": {"signal": "['M-3.6,0H3.6M-1,-1H1V1H-1Z','M-3.6,0H3.6M-1,0A1,1,0,1,1,1,0A1,1,0,1,1,-1,0Z','M-3.6,0H3.6M0,-1.15L1.15,0.85H-1.15Z','M-3.6,0H3.6M0,1.15L1.15,-0.85H-1.15Z','M-3.6,0H3.6M-1.15,0L0.85,-1.15V1.15Z','M-3.6,0H3.6M1.15,0L-0.85,-1.15V1.15Z','M-3.6,0H3.6M0,-1.3L1.3,0L0,1.3L-1.3,0Z'][indexof(['CsF(0.05 nm)','CsF(0.1 nm)','CsF(0.2 nm)','CsF(0.3 nm)','CsF(0.4 nm)','CsF(0.5 nm)','CsF(0.7 nm)'], datum.value)]"},
       "fill": {"signal": "['#000000','#ff1010','#2846f0','#1f9e74','#c060f0','#4e7a12','#1a1a8c'][indexof(['CsF(0.05 nm)','CsF(0.1 nm)','CsF(0.2 nm)','CsF(0.3 nm)','CsF(0.4 nm)','CsF(0.5 nm)','CsF(0.7 nm)'], datum.value)]"},
       "stroke": {"signal": "['#000000','#ff1010','#2846f0','#1f9e74','#c060f0','#4e7a12','#1a1a8c'][indexof(['CsF(0.05 nm)','CsF(0.1 nm)','CsF(0.2 nm)','CsF(0.3 nm)','CsF(0.4 nm)','CsF(0.5 nm)','CsF(0.7 nm)'], datum.value)]"},
       "strokeWidth": {"value": 1.2}}}}}},
    "shape": {"field": "series", "type": "nominal", "legend": null, "scale": {"domain": ["CsF(0.7 nm)", "CsF(0.5 nm)", "CsF(0.4 nm)", "CsF(0.3 nm)", "CsF(0.2 nm)", "CsF(0.1 nm)", "CsF(0.05 nm)"], "range": ["diamond", "triangle-right", "triangle-left", "triangle-down", "triangle-up", "circle", "square"]}}
   }},
  {"data": {"values": [{}]},
   "mark": {"type": "text", "align": "left", "baseline": "top", "fontSize": 11.7, "lineHeight": 14, "color": "black", "text": ["Activity area: 3.7 cm x 2.4 cm", "Blue fluorescent OLED"]},
   "encoding": {
    "x": {"datum": -1.77, "type": "quantitative"},
    "y": {"datum": 1193, "type": "quantitative"}
   }}
 ]
}
]}
]},
{"resolve": {"scale": {"color": "independent", "shape": "independent"}, "legend": {"color": "independent", "shape": "independent"}}, "spacing": 11, "vconcat": [
{"resolve": {"scale": {"color": "independent", "shape": "independent"}, "legend": {"color": "independent", "shape": "independent"}}, "spacing": 13, "hconcat": [
{
 "width": 261, "height": 194,
 "title": {"text": "(c)", "anchor": "start", "frame": "bounds", "orient": "top", "offset": -25, "baseline": "top", "dx": -10, "dy": 0, "fontSize": 20, "fontWeight": "normal", "font": "Liberation Sans", "color": "black"},
 "data": {"name": "c"},
 "layer": [
  {"mark": {"type": "line"},
   "encoding": {
    "x": {"field": "x", "type": "quantitative", "scale": {"domain": [-3, 9], "nice": false, "zero": false}, "axis": {"values": [-2, 0, 2, 4, 6, 8], "tickCount": 30, "format": "d", "labelOverlap": false, "title": "Voltage (V)", "titlePadding": 13}},
    "y": {"field": "y", "type": "quantitative", "scale": {"domain": [-2, 24], "nice": false, "zero": false}, "axis": {"values": [-2, 0, 2, 4, 6, 8, 10, 12, 14, 16, 18, 20, 22, 24], "tickCount": 30, "format": "d", "labelOverlap": false, "title": "Current efficiency (cd/A)", "titlePadding": 5, "titleY": 105, "minExtent": 30, "maxExtent": 30}},
    "color": {"field": "series", "type": "nominal", "scale": {"domain": ["CsF(0.1 nm)", "CsF(0.2 nm)", "CsF(0.3 nm)", "CsF(0.4 nm)", "CsF(1 nm)"], "range": ["#000000", "#ff1010", "#2846f0", "#1f9e74", "#c060f0"]}}
   }},
  {"mark": {"type": "point"},
   "encoding": {
    "x": {"field": "x", "type": "quantitative"},
    "y": {"field": "y", "type": "quantitative"},
    "color": {"field": "series", "type": "nominal", "legend": {"title": null, "orient": "none", "legendX": 80.7, "legendY": 16.8, "padding": 0, "labelFontSize": 9.8, "labelOffset": 10, "rowPadding": 0.4, "symbolSize": 36, "symbolOpacity": 1, "symbolStrokeWidth": 1.2,
      "encode": {"symbols": {"update": {
       "shape": {"signal": "['M-4,0H4M-1,-1H1V1H-1Z','M-4,0H4M-1,0A1,1,0,1,1,1,0A1,1,0,1,1,-1,0Z','M-4,0H4M0,-1.15L1.15,0.85H-1.15Z','M-4,0H4M0,1.15L1.15,-0.85H-1.15Z','M-4,0H4M-1.15,0L0.85,-1.15V1.15Z'][indexof(['CsF(0.1 nm)','CsF(0.2 nm)','CsF(0.3 nm)','CsF(0.4 nm)','CsF(1 nm)'], datum.value)]"},
       "fill": {"signal": "['#000000','#ff1010','#2846f0','#1f9e74','#c060f0'][indexof(['CsF(0.1 nm)','CsF(0.2 nm)','CsF(0.3 nm)','CsF(0.4 nm)','CsF(1 nm)'], datum.value)]"},
       "stroke": {"signal": "['#000000','#ff1010','#2846f0','#1f9e74','#c060f0'][indexof(['CsF(0.1 nm)','CsF(0.2 nm)','CsF(0.3 nm)','CsF(0.4 nm)','CsF(1 nm)'], datum.value)]"},
       "strokeWidth": {"value": 1.2}}}}}},
    "shape": {"field": "series", "type": "nominal", "legend": null, "scale": {"domain": ["CsF(1 nm)", "CsF(0.4 nm)", "CsF(0.3 nm)", "CsF(0.2 nm)", "CsF(0.1 nm)"], "range": ["triangle-left", "triangle-down", "triangle-up", "circle", "square"]}}
   }},
  {"data": {"values": [{}]},
   "mark": {"type": "text", "align": "left", "baseline": "top", "fontSize": 11.7, "lineHeight": 14, "color": "black", "text": ["Activity area: 3.7 cm x 2.4 cm", "Green phosphorescent OLED"]},
   "encoding": {
    "x": {"datum": -2.6, "type": "quantitative"},
    "y": {"datum": 12.5, "type": "quantitative"}
   }}
 ]
},
{
 "width": 259, "height": 194,
 "title": {"text": "(g)", "anchor": "start", "frame": "bounds", "orient": "top", "offset": -20, "baseline": "top", "dx": -2, "dy": 0, "fontSize": 20, "fontWeight": "normal", "font": "Liberation Sans", "color": "black"},
 "data": {"name": "g"},
 "layer": [
  {"mark": {"type": "line"},
   "encoding": {
    "x": {"field": "x", "type": "quantitative", "scale": {"domain": [-3, 9], "nice": false, "zero": false}, "axis": {"values": [-2, 0, 2, 4, 6, 8], "tickCount": 30, "format": "d", "labelOverlap": false, "title": "Voltage (V)", "titlePadding": 10}},
    "y": {"field": "y", "type": "quantitative", "scale": {"domain": [-0.5, 4.5], "nice": false, "zero": false}, "axis": {"values": [0, 1, 2, 3, 4], "tickCount": 30, "format": "d", "labelOverlap": false, "title": "Current efficiency (cd/A)", "titlePadding": 1, "titleY": 108, "minExtent": 30, "maxExtent": 30}},
    "color": {"field": "series", "type": "nominal", "scale": {"domain": ["CsF(0.05 nm)", "CsF(0.1 nm)", "CsF(0.2 nm)", "CsF(0.3 nm)", "CsF(0.4 nm)", "CsF(0.5 nm)", "CsF(0.7 nm)"], "range": ["#000000", "#ff1010", "#2846f0", "#1f9e74", "#c060f0", "#4e7a12", "#1a1a8c"]}}
   }},
  {"mark": {"type": "point"},
   "encoding": {
    "x": {"field": "x", "type": "quantitative"},
    "y": {"field": "y", "type": "quantitative"},
    "color": {"field": "series", "type": "nominal", "legend": {"title": null, "orient": "none", "legendX": 67.7, "legendY": 13.2, "padding": 0, "labelFontSize": 9, "labelOffset": 11, "rowPadding": -0.4, "symbolSize": 36, "symbolOpacity": 1, "symbolStrokeWidth": 1.2,
      "encode": {"symbols": {"update": {
       "shape": {"signal": "['M-3.6,0H3.6M-1,-1H1V1H-1Z','M-3.6,0H3.6M-1,0A1,1,0,1,1,1,0A1,1,0,1,1,-1,0Z','M-3.6,0H3.6M0,-1.15L1.15,0.85H-1.15Z','M-3.6,0H3.6M0,1.15L1.15,-0.85H-1.15Z','M-3.6,0H3.6M-1.15,0L0.85,-1.15V1.15Z','M-3.6,0H3.6M1.15,0L-0.85,-1.15V1.15Z','M-3.6,0H3.6M0,-1.3L1.3,0L0,1.3L-1.3,0Z'][indexof(['CsF(0.05 nm)','CsF(0.1 nm)','CsF(0.2 nm)','CsF(0.3 nm)','CsF(0.4 nm)','CsF(0.5 nm)','CsF(0.7 nm)'], datum.value)]"},
       "fill": {"signal": "['#000000','#ff1010','#2846f0','#1f9e74','#c060f0','#4e7a12','#1a1a8c'][indexof(['CsF(0.05 nm)','CsF(0.1 nm)','CsF(0.2 nm)','CsF(0.3 nm)','CsF(0.4 nm)','CsF(0.5 nm)','CsF(0.7 nm)'], datum.value)]"},
       "stroke": {"signal": "['#000000','#ff1010','#2846f0','#1f9e74','#c060f0','#4e7a12','#1a1a8c'][indexof(['CsF(0.05 nm)','CsF(0.1 nm)','CsF(0.2 nm)','CsF(0.3 nm)','CsF(0.4 nm)','CsF(0.5 nm)','CsF(0.7 nm)'], datum.value)]"},
       "strokeWidth": {"value": 1.2}}}}}},
    "shape": {"field": "series", "type": "nominal", "legend": null, "scale": {"domain": ["CsF(0.7 nm)", "CsF(0.5 nm)", "CsF(0.4 nm)", "CsF(0.3 nm)", "CsF(0.2 nm)", "CsF(0.1 nm)", "CsF(0.05 nm)"], "range": ["diamond", "triangle-right", "triangle-left", "triangle-down", "triangle-up", "circle", "square"]}}
   }},
  {"data": {"values": [{}]},
   "mark": {"type": "text", "align": "left", "baseline": "top", "fontSize": 10.4, "lineHeight": 13, "color": "black", "text": ["Activity area: 3.7 cm x 2.4 cm", "Blue fluorescent OLED"]},
   "encoding": {
    "x": {"datum": -2.78, "type": "quantitative"},
    "y": {"datum": 1.87, "type": "quantitative"}
   }}
 ]
}
]},
{"resolve": {"scale": {"color": "independent", "shape": "independent"}, "legend": {"color": "independent", "shape": "independent"}}, "spacing": 12, "hconcat": [
{
 "width": 261, "height": 193,
 "title": {"text": "(d)", "anchor": "start", "frame": "bounds", "orient": "top", "offset": -23, "baseline": "top", "dx": -7, "dy": 0, "fontSize": 20, "fontWeight": "normal", "font": "Liberation Sans", "color": "black"},
 "data": {"name": "d"},
 "layer": [
  {"mark": {"type": "line"},
   "encoding": {
    "x": {"field": "x", "type": "quantitative", "scale": {"domain": [-500, 4600], "nice": false, "zero": false}, "axis": {"values": [0, 1000, 2000, 3000, 4000], "tickCount": 30, "format": "d", "labelOverlap": false, "title": "Luminance (cd/m²)", "titlePadding": 9}},
    "y": {"field": "y", "type": "quantitative", "scale": {"domain": [-2, 24], "nice": false, "zero": false}, "axis": {"values": [-2, 0, 2, 4, 6, 8, 10, 12, 14, 16, 18, 20, 22, 24], "tickCount": 30, "format": "d", "labelOverlap": false, "title": "Current Efficiency (cd/A)", "titleFontSize": 17, "titlePadding": 5, "titleY": 101, "minExtent": 30, "maxExtent": 30}},
    "color": {"field": "series", "type": "nominal", "scale": {"domain": ["CsF(0.1 nm)", "CsF(0.2 nm)", "CsF(0.3 nm)", "CsF(0.4 nm)", "CsF(1 nm)"], "range": ["#000000", "#ff1010", "#2846f0", "#1f9e74", "#c060f0"]}}
   }},
  {"mark": {"type": "point"},
   "encoding": {
    "x": {"field": "x", "type": "quantitative"},
    "y": {"field": "y", "type": "quantitative"},
    "color": {"field": "series", "type": "nominal", "legend": {"title": null, "orient": "none", "legendX": 175, "legendY": 63.2, "padding": 0, "labelFontSize": 9.7, "labelOffset": 12, "rowPadding": 1.4, "symbolSize": 36, "symbolOpacity": 1, "symbolStrokeWidth": 1.2,
      "encode": {"symbols": {"update": {
       "shape": {"signal": "['M-3.8,0H3.8M-1,-1H1V1H-1Z','M-3.8,0H3.8M-1,0A1,1,0,1,1,1,0A1,1,0,1,1,-1,0Z','M-3.8,0H3.8M0,-1.15L1.15,0.85H-1.15Z','M-3.8,0H3.8M0,1.15L1.15,-0.85H-1.15Z','M-3.8,0H3.8M-1.15,0L0.85,-1.15V1.15Z'][indexof(['CsF(0.1 nm)','CsF(0.2 nm)','CsF(0.3 nm)','CsF(0.4 nm)','CsF(1 nm)'], datum.value)]"},
       "fill": {"signal": "['#000000','#ff1010','#2846f0','#1f9e74','#c060f0'][indexof(['CsF(0.1 nm)','CsF(0.2 nm)','CsF(0.3 nm)','CsF(0.4 nm)','CsF(1 nm)'], datum.value)]"},
       "stroke": {"signal": "['#000000','#ff1010','#2846f0','#1f9e74','#c060f0'][indexof(['CsF(0.1 nm)','CsF(0.2 nm)','CsF(0.3 nm)','CsF(0.4 nm)','CsF(1 nm)'], datum.value)]"},
       "strokeWidth": {"value": 1.2}}}}}},
    "shape": {"field": "series", "type": "nominal", "legend": null, "scale": {"domain": ["CsF(1 nm)", "CsF(0.4 nm)", "CsF(0.3 nm)", "CsF(0.2 nm)", "CsF(0.1 nm)"], "range": ["triangle-left", "triangle-down", "triangle-up", "circle", "square"]}}
   }},
  {"data": {"values": [{}]},
   "mark": {"type": "text", "align": "left", "baseline": "top", "fontSize": 11.7, "lineHeight": 14, "color": "black", "text": ["Activity area: 3.7 cm x 2.4 cm", "Green phosphorescent OLED"]},
   "encoding": {
    "x": {"datum": 1024, "type": "quantitative"},
    "y": {"datum": 4.6, "type": "quantitative"}
   }}
 ]
},
{
 "width": 259, "height": 193,
 "title": {"text": "(h)", "anchor": "start", "frame": "bounds", "orient": "top", "offset": -24, "baseline": "top", "dx": -3, "dy": 0, "fontSize": 20, "fontWeight": "normal", "font": "Liberation Sans", "color": "black"},
 "data": {"name": "h"},
 "layer": [
  {"mark": {"type": "line"},
   "encoding": {
    "x": {"field": "x", "type": "quantitative", "scale": {"domain": [-270, 3100], "nice": false, "zero": false}, "axis": {"values": [0, 500, 1000, 1500, 2000, 2500, 3000], "tickCount": 30, "format": "d", "labelOverlap": false, "title": "Luminance (cd/m²)", "titlePadding": 14}},
    "y": {"field": "y", "type": "quantitative", "scale": {"domain": [-0.5, 4.5], "nice": false, "zero": false}, "axis": {"values": [0, 1, 2, 3, 4], "tickCount": 30, "format": "d", "labelOverlap": false, "title": "Current Efficiency (cd/A)", "titleFontSize": 17, "titlePadding": 1, "titleY": 101, "minExtent": 30, "maxExtent": 30}},
    "color": {"field": "series", "type": "nominal", "scale": {"domain": ["CsF(0.05 nm)", "CsF(0.1 nm)", "CsF(0.2 nm)", "CsF(0.3 nm)", "CsF(0.4 nm)", "CsF(0.5 nm)", "CsF(0.7 nm)"], "range": ["#000000", "#ff1010", "#2846f0", "#1f9e74", "#c060f0", "#4e7a12", "#1a1a8c"]}}
   }},
  {"mark": {"type": "point"},
   "encoding": {
    "x": {"field": "x", "type": "quantitative"},
    "y": {"field": "y", "type": "quantitative"},
    "color": {"field": "series", "type": "nominal", "legend": {"title": null, "orient": "none", "legendX": 175, "legendY": 42.8, "padding": 0, "labelFontSize": 9, "labelOffset": 11, "rowPadding": -0.4, "symbolSize": 36, "symbolOpacity": 1, "symbolStrokeWidth": 1.2,
      "encode": {"symbols": {"update": {
       "shape": {"signal": "['M-3.6,0H3.6M-1,-1H1V1H-1Z','M-3.6,0H3.6M-1,0A1,1,0,1,1,1,0A1,1,0,1,1,-1,0Z','M-3.6,0H3.6M0,-1.15L1.15,0.85H-1.15Z','M-3.6,0H3.6M0,1.15L1.15,-0.85H-1.15Z','M-3.6,0H3.6M-1.15,0L0.85,-1.15V1.15Z','M-3.6,0H3.6M1.15,0L-0.85,-1.15V1.15Z','M-3.6,0H3.6M0,-1.3L1.3,0L0,1.3L-1.3,0Z'][indexof(['CsF(0.05 nm)','CsF(0.1 nm)','CsF(0.2 nm)','CsF(0.3 nm)','CsF(0.4 nm)','CsF(0.5 nm)','CsF(0.7 nm)'], datum.value)]"},
       "fill": {"signal": "['#000000','#ff1010','#2846f0','#1f9e74','#c060f0','#4e7a12','#1a1a8c'][indexof(['CsF(0.05 nm)','CsF(0.1 nm)','CsF(0.2 nm)','CsF(0.3 nm)','CsF(0.4 nm)','CsF(0.5 nm)','CsF(0.7 nm)'], datum.value)]"},
       "stroke": {"signal": "['#000000','#ff1010','#2846f0','#1f9e74','#c060f0','#4e7a12','#1a1a8c'][indexof(['CsF(0.05 nm)','CsF(0.1 nm)','CsF(0.2 nm)','CsF(0.3 nm)','CsF(0.4 nm)','CsF(0.5 nm)','CsF(0.7 nm)'], datum.value)]"},
       "strokeWidth": {"value": 1.2}}}}}},
    "shape": {"field": "series", "type": "nominal", "legend": null, "scale": {"domain": ["CsF(0.7 nm)", "CsF(0.5 nm)", "CsF(0.4 nm)", "CsF(0.3 nm)", "CsF(0.2 nm)", "CsF(0.1 nm)", "CsF(0.05 nm)"], "range": ["diamond", "triangle-right", "triangle-left", "triangle-down", "triangle-up", "circle", "square"]}}
   }},
  {"data": {"values": [{}]},
   "mark": {"type": "text", "align": "left", "baseline": "top", "fontSize": 11.7, "lineHeight": 14, "color": "black", "text": ["Activity area: 3.7 cm x 2.4 cm", "Blue fluorescent OLED"]},
   "encoding": {
    "x": {"datum": 752, "type": "quantitative"},
    "y": {"datum": 0.67, "type": "quantitative"}
   }}
 ]
}
]}
]}
],
"spacing": 12.5
}
